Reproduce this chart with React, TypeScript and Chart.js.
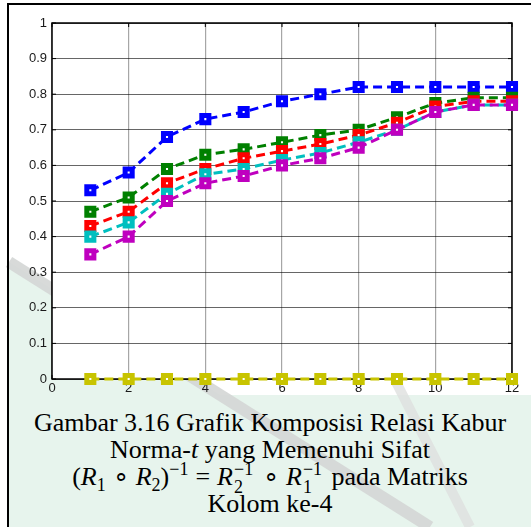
import React, { useEffect, useRef } from "react";
import { Chart, registerables } from "chart.js";
Chart.register(...registerables);

const xValues = [1, 2, 3, 4, 5, 6, 7, 8, 9, 10, 11, 12];
const blueSeries = [0.53, 0.58, 0.68, 0.73, 0.75, 0.78, 0.80, 0.82, 0.82, 0.82, 0.82, 0.82];
const greenSeries = [0.47, 0.51, 0.59, 0.63, 0.645, 0.665, 0.685, 0.70, 0.735, 0.775, 0.79, 0.79];
const redSeries = [0.43, 0.47, 0.55, 0.59, 0.62, 0.64, 0.66, 0.685, 0.72, 0.765, 0.78, 0.78];
const cyanSeries = [0.40, 0.44, 0.52, 0.575, 0.59, 0.615, 0.635, 0.665, 0.70, 0.75, 0.77, 0.77];
const magentaSeries = [0.35, 0.40, 0.50, 0.55, 0.57, 0.60, 0.62, 0.65, 0.70, 0.75, 0.77, 0.77];
const yellowSeries = [0, 0, 0, 0, 0, 0, 0, 0, 0, 0, 0, 0];

const xTickLabels = ["0", "2", "4", "6", "8", "10", "12"];
const yTickLabels = ["0", "0.1", "0.2", "0.3", "0.4", "0.5", "0.6", "0.7", "0.8", "0.9", "1"];

const seriesList = [
  { values: blueSeries, color: "#0000ff" },
  { values: greenSeries, color: "#008000" },
  { values: redSeries, color: "#ff0000" },
  { values: cyanSeries, color: "#00bfbf" },
  { values: magentaSeries, color: "#bf00bf" },
  { values: yellowSeries, color: "#c8c400" },
];

const framePlugin = {
  id: "frame",
  beforeDraw(chart: any) {
    const { ctx, chartArea } = chart;
    if (!chartArea) return;
    ctx.save();
    ctx.fillStyle = "#ffffff";
    ctx.fillRect(chartArea.left, chartArea.top, chartArea.right - chartArea.left, chartArea.bottom - chartArea.top);
    ctx.restore();
  },
  beforeDatasetsDraw(chart: any) {
    const { ctx, chartArea, scales } = chart;
    const { left, right, top, bottom } = chartArea;
    ctx.save();
    ctx.strokeStyle = "#000";
    ctx.lineWidth = 1.5;
    ctx.strokeRect(left, top, right - left, bottom - top);
    ctx.lineWidth = 1;
    const tl = 4;
    scales.x.ticks.forEach((t: any) => {
      const px = scales.x.getPixelForValue(t.value);
      ctx.beginPath();
      ctx.moveTo(px, bottom);
      ctx.lineTo(px, bottom - tl);
      ctx.moveTo(px, top);
      ctx.lineTo(px, top + tl);
      ctx.stroke();
    });
    scales.y.ticks.forEach((t: any) => {
      const py = scales.y.getPixelForValue(t.value);
      ctx.beginPath();
      ctx.moveTo(left, py);
      ctx.lineTo(left + tl, py);
      ctx.moveTo(right, py);
      ctx.lineTo(right - tl, py);
      ctx.stroke();
    });
    ctx.restore();
  },
};

function ChartBox() {
  const ref = useRef<HTMLCanvasElement | null>(null);
  useEffect(() => {
    if (!ref.current) return;
    const chart = new Chart(ref.current, {
      type: "line",
      data: {
        datasets: seriesList.map((s, i) => ({
          data: xValues.map((x, j) => ({ x, y: s.values[j] })),
          borderColor: s.color,
          backgroundColor: s.color,
          borderWidth: 3,
          borderDash: [9, 5],
          pointStyle: "rect",
          pointRadius: 5,
          pointBorderWidth: 5,
          pointBorderColor: s.color,
          pointBackgroundColor: "#ffffff",
          tension: 0,
          clip: false,
          order: seriesList.length - i,
        })),
      },
      options: {
        animation: false,
        responsive: false,
        events: [],
        layout: { padding: { left: 0, right: 19, top: 23, bottom: 0 } },
        plugins: { legend: { display: false }, tooltip: { enabled: false } },
        scales: {
          x: {
            type: "linear",
            min: 0,
            max: 12,
            afterFit(scale: any) {
              scale.height = 21;
            },
            afterBuildTicks(scale: any) {
              scale.ticks = xTickLabels.map((l) => ({ value: Number(l) }));
            },
            ticks: {
              callback: (v: any) => xTickLabels.find((l) => Number(l) === v) ?? "",
              font: { family: "'Liberation Sans', Arial", size: 13 },
              color: "#1a1a1a",
              padding: 2,
              maxRotation: 0,
            },
            border: { display: false },
            grid: {
              color: "rgba(0,0,0,0.35)",
              lineWidth: 1.2,
              drawTicks: false,
              tickLength: 0,
            },
          },
          y: {
            min: 0,
            max: 1,
            afterFit(scale: any) {
              scale.width = 52;
            },
            afterBuildTicks(scale: any) {
              scale.ticks = yTickLabels.map((l) => ({ value: Number(l) }));
            },
            ticks: {
              callback: (v: any) => yTickLabels.find((l) => Number(l) === v) ?? "",
              font: { family: "'Liberation Sans', Arial", size: 13 },
              color: "#1a1a1a",
              padding: 5,
            },
            border: { display: false },
            grid: {
              color: "rgba(0,0,0,0.6)",
              lineWidth: 1,
              drawTicks: false,
              tickLength: 0,
            },
          },
        },
      },
      plugins: [framePlugin],
    } as any);
    return () => chart.destroy();
  }, []);
  return <canvas ref={ref} width={531} height={400} style={{ position: "absolute", left: 0, top: 0 }} />;
}

const smallStyle = { fontSize: 18, lineHeight: "18px", position: "relative" as const, fontStyle: "normal" as const };

function Sub({ t }: { t: string }) {
  return <span style={{ ...smallStyle, top: 6 }}>{t}</span>;
}
function Sup({ t }: { t: string }) {
  return <span style={{ ...smallStyle, top: -10 }}>{t}</span>;
}
function SubSup({ sub, sup }: { sub: string; sup: string }) {
  return (
    <span style={{ position: "relative", display: "inline-block", width: 23, height: 10 }}>
      <span style={{ ...smallStyle, position: "absolute", left: 1, top: -15 }}>{sup}</span>
      <span style={{ ...smallStyle, position: "absolute", left: 1, top: 3 }}>{sub}</span>
    </span>
  );
}

function Op({ t }: { t: string }) {
  return <span style={{ margin: "0 7px" }}>{t}</span>;
}

export default function App() {
  const mathR = { fontStyle: "italic" as const };
  const lineStyle = { height: 27, whiteSpace: "nowrap" as const };
  const mint = "#e7f4ed";
  return (
    <div style={{ position: "absolute", left: 0, top: 0, width: 531, height: 527, background: "#fff", overflow: "hidden" }}>
      <svg width={531} height={527} style={{ position: "absolute", left: 0, top: 0 }}>
        <polygon points="9,262 430,527 9,527" fill={mint} />
        <rect x={9} y={395} width={522} height={132} fill={mint} />
        <line x1={9} y1={262} x2={430} y2={527} stroke="rgba(212,214,213,0.9)" strokeWidth={12} />
        <line x1={395} y1={380} x2={470} y2={527} stroke="rgba(222,224,223,0.8)" strokeWidth={10} />
      </svg>
      <div style={{ position: "absolute", left: 52, top: 23, width: 460, height: 356, background: "#fff" }} />
      <div style={{ position: "absolute", left: 7, top: 3, width: 524, height: 2, background: "#000" }} />
      <div style={{ position: "absolute", left: 7, top: 3, width: 2, height: 524, background: "#000" }} />
      <ChartBox />
      <div
        style={{
          position: "absolute",
          left: 8,
          top: 409,
          width: 524,
          textAlign: "center",
          fontFamily: "'Liberation Serif', 'Times New Roman', serif",
          fontSize: 26,
          lineHeight: "27px",
          color: "#000",
        }}
      >
        <div style={lineStyle}>Gambar 3.16 Grafik Komposisi Relasi Kabur</div>
        <div style={lineStyle}>
          Norma-<span style={mathR}>t</span> yang Memenuhi Sifat
        </div>
        <div style={lineStyle}>
          (<span style={mathR}>R</span>
          <Sub t="1" />
          <Op t="∘" />
          <span style={mathR}>R</span>
          <Sub t="2" />)<Sup t="−1" />
          <Op t="=" />
          <span style={mathR}>R</span>
          <SubSup sub="2" sup="−1" />
          <Op t="∘" />
          <span style={mathR}>R</span>
          <SubSup sub="1" sup="−1" /> pada Matriks
        </div>
        <div style={lineStyle}>Kolom ke-4</div>
      </div>
    </div>
  );
}
